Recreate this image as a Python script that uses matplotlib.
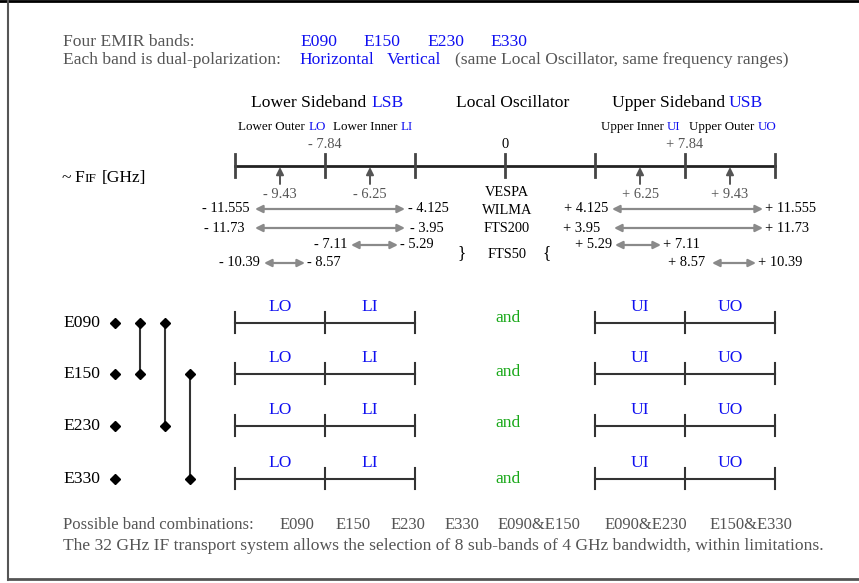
import matplotlib.pyplot as plt

# ---- data -------------------------------------------------------------
band_names = ["E090", "E150", "E230", "E330"]
band_pairs = [(0, 1), (0, 2), (1, 3)]
sub_bands = ["LO", "LI", "UI", "UO"]
sideband_ticks = ["- 7.84", "0", "+ 7.84"]
sub_centres = ["- 9.43", "- 6.25", "+ 6.25", "+ 9.43"]
backends = ["VESPA", "WILMA", "FTS200", "FTS50"]
lower_ranges = [("- 11.555", "- 4.125"), ("- 11.73", "- 3.95"),
                ("- 7.11", "- 5.29"), ("- 10.39", "- 8.57")]
upper_ranges = [("+ 4.125", "+ 11.555"), ("+ 3.95", "+ 11.73"),
                ("+ 5.29", "+ 7.11"), ("+ 8.57", "+ 10.39")]
combinations = ["E090", "E150", "E230", "E330",
                "E090&E150", "E090&E230", "E150&E330"]

BLUE = "#1010f0"
GREEN = "#18a818"
GREY = "#555555"
ARROW = "#8a8a8a"
FONT = "Liberation Serif"

plt.rcParams["font.family"] = FONT

fig = plt.figure(figsize=(8.59, 5.83), dpi=100)
ax = fig.add_axes([0, 0, 1, 1])
ax.set_xlim(0, 859)
ax.set_ylim(583, 0)
ax.axis("off")


def txt(x, y, s, size=12.6, color="black", ha="left"):
    ax.text(x, y, s, fontsize=size, color=color, ha=ha, va="center")


def arrow(x0, y0, x1, y1, style="<|-|>", color=ARROW, lw=1.6):
    ax.annotate("", xy=(x1, y1), xytext=(x0, y0),
                arrowprops=dict(arrowstyle=style, color=color, lw=lw,
                                shrinkA=0, shrinkB=0, mutation_scale=11))


# frame
ax.plot([0, 859], [0.8, 0.8], color="black", lw=2)
ax.plot([8, 8], [0, 580], color=GREY, lw=1.5)
ax.plot([8, 859], [579, 579], color=GREY, lw=2)

# header
txt(63, 42, "Four EMIR bands:", color=GREY)
for i, name in enumerate(band_names):
    txt(300 + 63.5 * i, 42, name, color=BLUE)
txt(63, 60, "Each band is dual-polarization:", color=GREY)
txt(299, 60, "Horizontal", color=BLUE)
txt(387, 60, "Vertical", color=BLUE)
txt(455, 60, "(same Local Oscillator, same frequency ranges)", color=GREY)

# sideband titles
txt(251, 103, "Lower Sideband")
txt(371, 103, "LSB", color=BLUE)
txt(456, 103, "Local Oscillator")
txt(612, 103, "Upper Sideband")
txt(729, 103, "USB", color=BLUE)

small = 9.4
txt(238, 127, "Lower Outer", size=small)
txt(309, 127, "LO", size=small, color=BLUE)
txt(333, 127, "Lower Inner", size=small)
txt(401, 127, "LI", size=small, color=BLUE)
txt(601, 127, "Upper Inner", size=small)
txt(667, 127, "UI", size=small, color=BLUE)
txt(689, 127, "Upper Outer", size=small)
txt(758, 127, "UO", size=small, color=BLUE)

# IF axis
ticks_x = [235, 325, 415, 505, 595, 685, 775]
ax.plot([235, 775], [166, 166], color="#222222", lw=2)
for x in ticks_x:
    ax.plot([x, x], [154, 177], color="#444444", lw=2)
num = 10.4
for x, lab in zip([325, 505, 685], sideband_ticks):
    txt(x, 145, lab, size=num, color=GREY if lab != "0" else "black",
        ha="center")
for x, lab in zip([280, 370, 640, 730], sub_centres):
    arrow(x, 184, x, 167, style="-|>", color="#555555", lw=1.4)
    txt(x, 194, lab, size=num, color=GREY, ha="center")

ax.text(62, 178, "~", fontsize=12.6, va="center", ha="left")
ax.text(74, 178, "F", fontsize=12.6, va="center", ha="left")
ax.text(84, 179, "IF", fontsize=9.5, va="center", ha="left")
ax.text(102, 178, "[GHz]", fontsize=12.6, va="center", ha="left")

# back-ends and their IF ranges
row_y = [192, 210, 228, 255]
for name, y in zip(backends, row_y):
    txt(507, y, name, size=num, ha="center")
txt(462, 253, "}", size=12.6, ha="center")
txt(547, 253, "{", size=12.6, ha="center")

lower_geom = [(250, 255, 405, 408, 209), (245, 255, 405, 410, 228),
              (347, 351, 398, 400, 245), (260, 264, 305, 307, 263)]
upper_geom = [(608, 612, 763, 765, 209), (600, 614, 763, 765, 228),
              (612, 615, 661, 663, 245), (705, 712, 756, 758, 263)]
for (lo, hi), (tr, a0, a1, tl, y) in zip(lower_ranges, lower_geom):
    txt(tr, y, lo, size=num, ha="right")
    arrow(a0, y, a1, y)
    txt(tl, y, hi, size=num)
for (lo, hi), (tr, a0, a1, tl, y) in zip(upper_ranges, upper_geom):
    txt(tr, y, lo, size=num, ha="right")
    arrow(a0, y, a1, y)
    txt(tl, y, hi, size=num)

# band rows
band_y = [323, 374, 426, 479]
and_y = [318, 372, 423, 479]
for i, (name, y) in enumerate(zip(band_names, band_y)):
    txt(63, y, name)
    ax.plot(115, y, marker="D", color="black", ms=5.5)
    for xs in ([235, 325, 415], [595, 685, 775]):
        ax.plot([xs[0], xs[-1]], [y, y], color="#333333", lw=1.5)
        for x in xs:
            ax.plot([x, x], [y - 11, y + 10], color="#333333", lw=1.5)
    for x, lab in zip([280, 370, 640, 730], sub_bands):
        txt(x, y - 16, lab, color=BLUE, ha="center")
    txt(508, and_y[i], "and", color=GREEN, ha="center")

for k, (a, b) in enumerate(band_pairs):
    x = 140 + 25 * k
    ax.plot([x, x], [band_y[a], band_y[b]], color="#333333", lw=1.5)
    ax.plot([x, x], [band_y[a], band_y[b]], "D", color="black", ms=5.5)

# footer
foot = 12
txt(63, 525, "Possible band combinations:", size=foot, color=GREY)
for x, c in zip([280, 336, 391, 445, 498, 605, 710], combinations):
    txt(x, 525, c, size=foot, color=GREY)
txt(63, 546, "The 32 GHz IF transport system allows the selection of 8 "
    "sub-bands of 4 GHz bandwidth, within limitations.", size=12.6,
    color=GREY)

fig.savefig("out.png", dpi=100)
